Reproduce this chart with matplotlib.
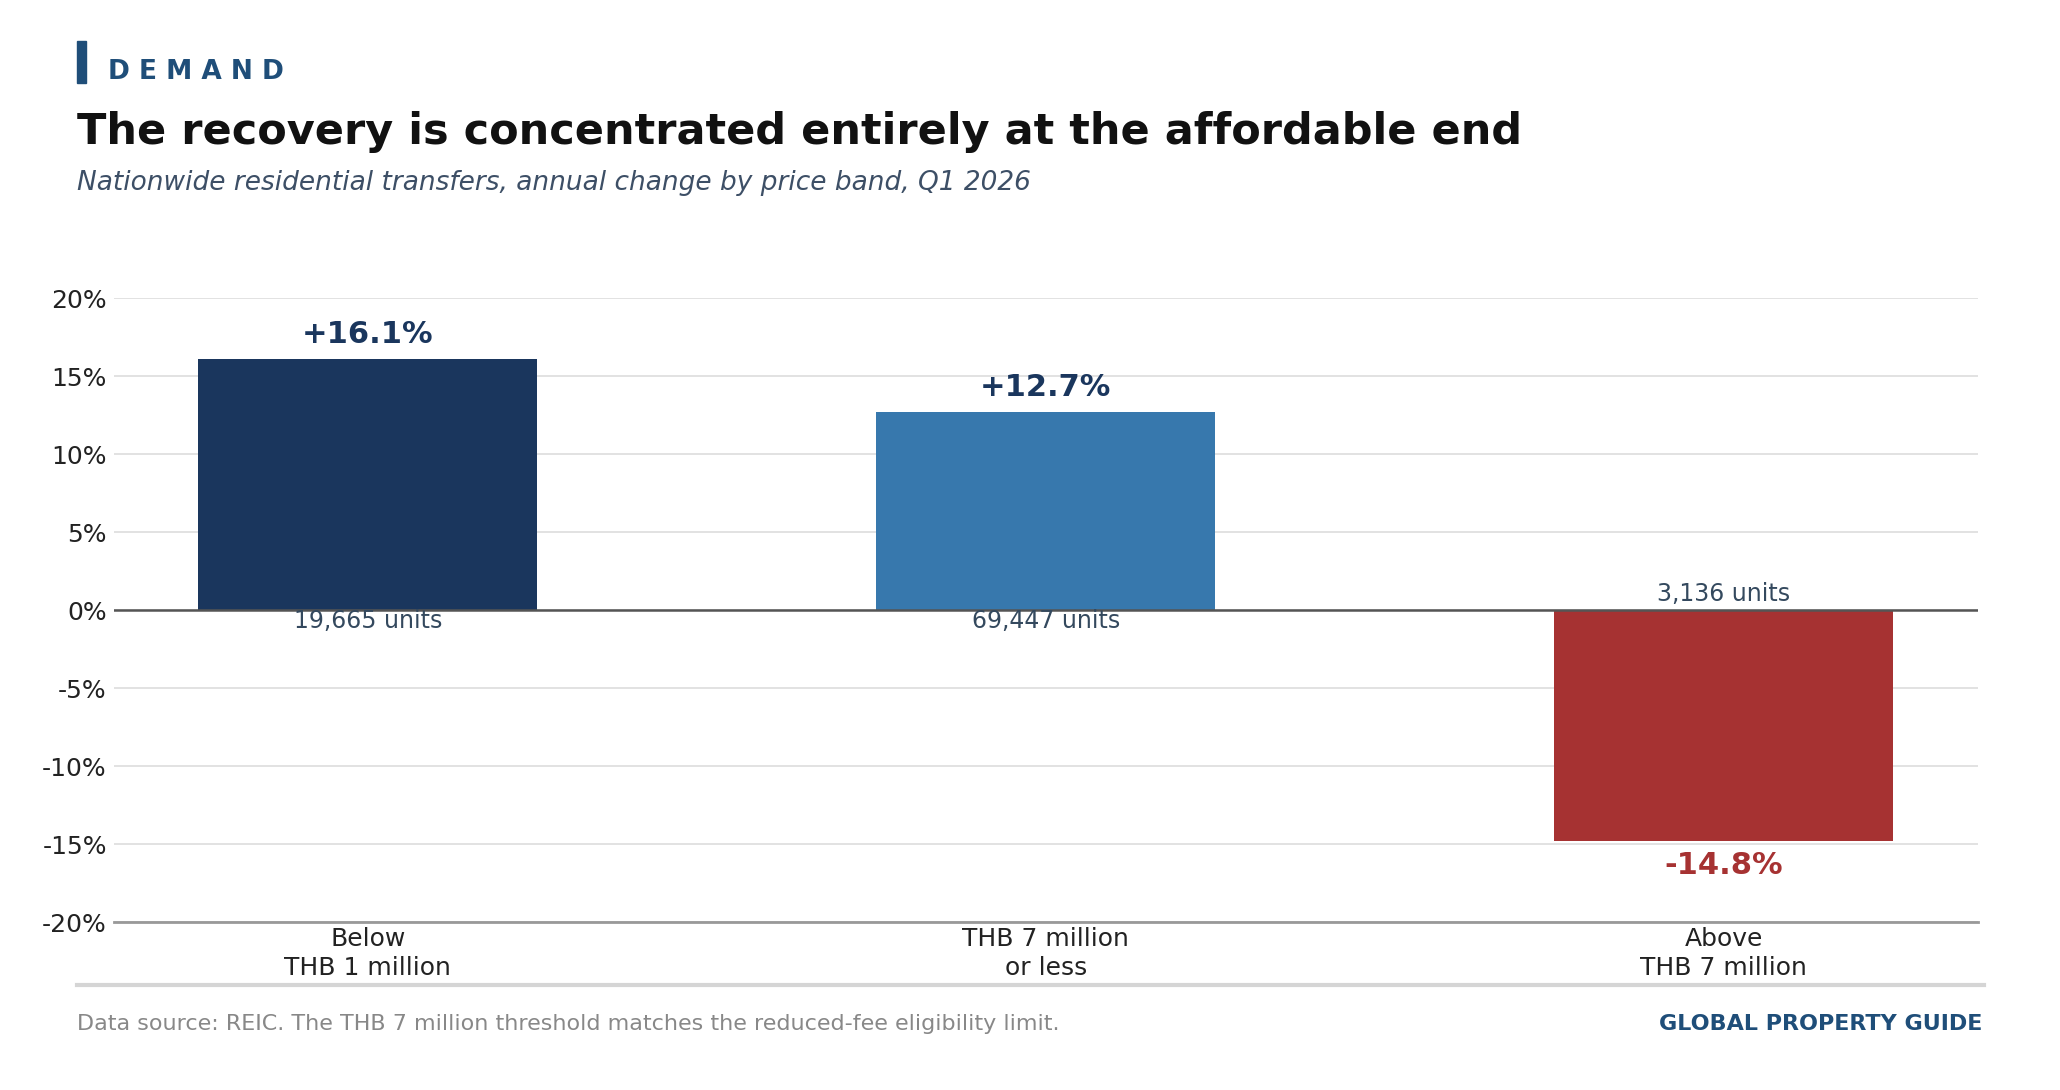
import matplotlib
matplotlib.use("Agg")
import matplotlib.pyplot as plt
from matplotlib.patches import Rectangle
from matplotlib.lines import Line2D

# data
categories = ["Below\nTHB 1 million", "THB 7 million\nor less", "Above\nTHB 7 million"]
changes = [16.1, 12.7, -14.8]
units = ["19,665 units", "69,447 units", "3,136 units"]
bar_colors = ["#1a365d", "#3778ad", "#a63232"]
yticks = [-20, -15, -10, -5, 0, 5, 10, 15, 20]

NAVY = "#1f4e79"
SLATE = "#34495e"

plt.rcParams["font.family"] = ["DejaVu Sans"]

fig = plt.figure(figsize=(20.6, 10.9), dpi=100)
ax = fig.add_axes([0.0552, 0.1541, 0.9602 - 0.0552, 0.7266 - 0.1541])

x = list(range(len(categories)))
ax.bar(x, changes, width=0.5, color=bar_colors, zorder=3)

ax.set_xlim(-0.375, len(categories) - 1 + 0.375)
ax.set_ylim(-20, 20)
ax.set_yticks(yticks)
ax.set_yticklabels([f"{t}%" for t in yticks])
ax.set_xticks(x)
ax.set_xticklabels(categories, linespacing=1.25)
ax.tick_params(axis="both", length=0, labelsize=18, colors="#222222")
ax.tick_params(axis="y", pad=5)
ax.tick_params(axis="x", pad=3.5)

ax.grid(axis="y", color="#dddddd", linewidth=1.2, zorder=0)
ax.set_axisbelow(True)
for s in ["top", "right", "left"]:
    ax.spines[s].set_visible(False)
ax.spines["bottom"].set_color("#999999")
ax.spines["bottom"].set_linewidth(2)
ax.axhline(0, color="#555555", linewidth=1.8, zorder=4)

for xi, v, u in zip(x, changes, units):
    if v >= 0:
        ax.annotate(f"+{v:.1f}%", (xi, v), xytext=(0, 7), textcoords="offset points",
                    ha="center", va="bottom", fontsize=22, fontweight="bold", color="#1a365d")
        ax.annotate(u, (xi, 0), xytext=(0, 0.5), textcoords="offset points",
                    ha="center", va="top", fontsize=17, color=SLATE, zorder=5)
    else:
        ax.annotate(f"{v:.1f}%", (xi, v), xytext=(0, -7), textcoords="offset points",
                    ha="center", va="top", fontsize=22, fontweight="bold", color="#a63232")
        ax.annotate(u, (xi, 0), xytext=(0, 3), textcoords="offset points",
                    ha="center", va="bottom", fontsize=17, color=SLATE, zorder=5)

# header
fig.patches.append(Rectangle((0.0372, 0.9236), 0.0044, 0.0388, transform=fig.transFigure,
                             color=NAVY, zorder=5))
fig.text(0.0526, 0.9272, "D E M A N D", fontsize=19, fontweight="bold", color=NAVY, va="baseline")
fig.text(0.0372, 0.8683, "The recovery is concentrated entirely at the affordable end",
         fontsize=31, fontweight="bold", color="#111111", va="baseline")
fig.text(0.0372, 0.8253, "Nationwide residential transfers, annual change by price band, Q1 2026",
         fontsize=19, style="italic", color="#3d4f66", va="baseline")

# footer
fig.lines.append(Line2D([0.0372, 0.963], [0.0960, 0.0960], transform=fig.transFigure,
                        color="#d5d5d5", linewidth=3))
fig.text(0.0372, 0.0550, "Data source: REIC. The THB 7 million threshold matches the reduced-fee eligibility limit.",
         fontsize=16, color="#888888", va="baseline")
fig.text(0.9624, 0.0550, "GLOBAL PROPERTY GUIDE", fontsize=16, fontweight="bold", color=NAVY,
         ha="right", va="baseline")

fig.savefig("out.png", dpi=100)
